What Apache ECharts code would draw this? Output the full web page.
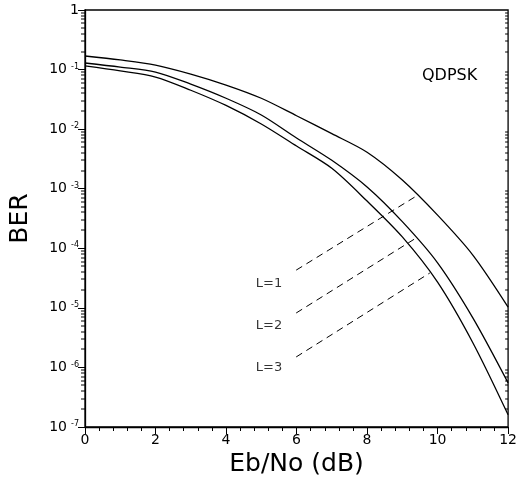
<!DOCTYPE html>
<html>
<head>
<meta charset="utf-8">
<script src="https://cdn.jsdelivr.net/npm/echarts@6/dist/echarts.min.js"></script>
<style>html,body{margin:0;padding:0;background:#fff;}#c{width:520px;height:483px;}</style>
</head>
<body>
<div id="c"></div>
<script>
// Eb/No in dB
const ebno = [0,1,2,3,4,5,6,7,8,9,10,11,12];
// BER curves
const berL1 = [0.169,0.145,0.119,0.084,0.055,0.033,0.0168,8.4e-3,4.1e-3,1.4e-3,3.6e-4,7.7e-5,1.03e-5];
const berL2 = [0.129,0.110,0.091,0.057,0.033,0.0173,7.1e-3,3.0e-3,1.07e-3,2.8e-4,5.7e-5,6.8e-6,5.5e-7];
const berL3 = [0.115,0.095,0.075,0.045,0.025,0.0122,5.2e-3,2.2e-3,6.2e-4,1.55e-4,2.7e-5,2.6e-6,1.6e-7];
// annotation leader lines [x dB, BER]
const leadL1 = [[5.99,4.3e-5],[9.44,7.8e-4]];
const leadL2 = [[5.99,8.2e-6],[9.44,1.55e-4]];
const leadL3 = [[5.99,1.5e-6],[9.78,3.85e-5]];
const labelNames = ['L=1','L=2','L=3'];
const labelPos = [[5.22,2.6e-5],[5.22,4.96e-6],[5.22,1.0e-6]];
// log minor tick positions (multiplier x decade), placed on left (x=0) and right (x=12) edges
const decadeExps = [-7,-6,-5,-4,-3,-2,-1];
const minorMult = [2,3,4,5,6,7,8,9];
const minorTicksLeft = [];
const minorTicksRight = [];
decadeExps.forEach(e => minorMult.forEach(m => {
  minorTicksLeft.push([0, m * Math.pow(10, e)]);
  minorTicksRight.push([12, m * Math.pow(10, e)]);
}));

const FONT = 'DejaVu Sans';
const chart = echarts.init(document.getElementById('c'));
function yFmt(v){
  const e = Math.round(Math.log10(v));
  if (e === 0) return '{b|1}';
  return '{b|10}{s|' + e + '}';
}
const rich = {
  b:{fontSize:14, fontFamily:FONT, color:'#000'},
  s:{fontSize:8, fontFamily:FONT, color:'#000', verticalAlign:'top', padding:[0,0,6,4]}
};
const lineCommon = {type:'line', showSymbol:false, smooth:0.3, lineStyle:{color:'#000', width:1.3}, silent:true};
const dashCommon = {type:'line', showSymbol:false, lineStyle:{color:'#000', width:1, type:[7,5]}, silent:true};
function tickSeries(data, dx, w){
  return {type:'custom', data:data,
    renderItem:function(params, api){
      const p = api.coord([api.value(0), api.value(1)]);
      return {type:'rect', shape:{x:p[0]+dx, y:Math.round(p[1])-0.5, width:w, height:1}, style:{fill:'#000'}};
    }};
}
chart.setOption({
  animation:false,
  title:{text:'QDPSK', left:417, top:63, textStyle:{fontFamily:FONT, fontSize:16, fontWeight:'normal', color:'#000'}},
  grid:{left:84, right:9, top:10, bottom:56, show:true, borderColor:'#000', borderWidth:1.3},
  xAxis:{
    type:'value', min:0, max:12, interval:2,
    name:'Eb/No (dB)', nameLocation:'middle', nameGap:24,
    nameTextStyle:{fontFamily:FONT, fontSize:25, color:'#000'},
    axisLine:{lineStyle:{color:'#000', width:1.3}},
    axisTick:{length:7, lineStyle:{color:'#000'}},
    minorTick:{show:true, splitNumber:5, length:4, lineStyle:{color:'#000'}},
    axisLabel:{fontFamily:FONT, fontSize:14, color:'#000', margin:6},
    splitLine:{show:false}
  },
  yAxis:{
    type:'log', logBase:10, min:1e-7, max:1, interval:1,
    name:'BER', nameLocation:'middle', nameGap:52,
    nameTextStyle:{fontFamily:FONT, fontSize:25, color:'#000'},
    axisLine:{lineStyle:{color:'#000', width:1.3}},
    axisTick:{length:7, lineStyle:{color:'#000'}},
    axisLabel:{formatter:yFmt, rich:rich, margin:6},
    splitLine:{show:false}
  },
  series:[
    Object.assign({name:'L=1', data:ebno.map((x,i)=>[x,berL1[i]])}, lineCommon),
    Object.assign({name:'L=2', data:ebno.map((x,i)=>[x,berL2[i]])}, lineCommon),
    Object.assign({name:'L=3', data:ebno.map((x,i)=>[x,berL3[i]])}, lineCommon),
    Object.assign({data:leadL1}, dashCommon),
    Object.assign({data:leadL2}, dashCommon),
    Object.assign({data:leadL3}, dashCommon),
    {type:'scatter', symbolSize:0, silent:true,
     data:labelPos.map((p,i)=>({value:p, name:labelNames[i]})),
     label:{show:true, position:'inside', formatter:p=>p.name, fontFamily:FONT, fontSize:13, color:'#000'}},
    tickSeries(minorTicksLeft, -4, 4),
    tickSeries(minorTicksRight, -3, 3)
  ]
});
</script>
</body>
</html>
